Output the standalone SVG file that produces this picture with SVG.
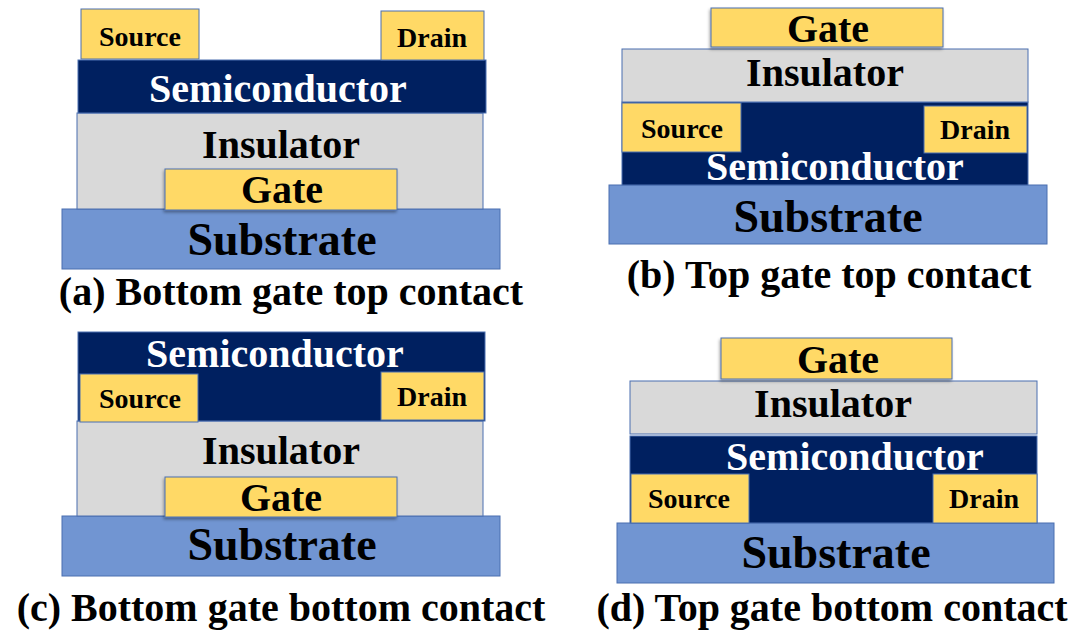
<svg xmlns="http://www.w3.org/2000/svg" width="1079" height="633" viewBox="0 0 1079 633">
<defs>
<filter id="sh" x="-10%" y="-20%" width="120%" height="150%">
<feDropShadow dx="-1" dy="2" stdDeviation="1.5" flood-color="#000" flood-opacity="0.35"/>
</filter>
</defs>
<style>
.L{stroke:#4A6FB0;stroke-width:1}
.y{fill:#FFD966}
.n{fill:#002060}
.g{fill:#D9D9D9}
.s{fill:#7195D2}
text{font-family:"Liberation Serif","Times New Roman",serif;font-weight:bold;text-anchor:middle;fill:#000}
.w{fill:#fff}
.sm{font-size:28px}
.md{font-size:40px}
.lg{font-size:46px}
.cap{font-size:40px}
</style>
<rect width="1079" height="633" fill="#fff"/>

<g id="panel-a">
<g id="a-substrate"><rect class="L s" x="62" y="209" width="438" height="60"/><text class="lg" x="282" y="255">Substrate</text></g>
<g id="a-insulator"><rect class="L g" x="77" y="113" width="406" height="96"/><text class="md" x="281" y="158">Insulator</text></g>
<g id="a-gate"><rect class="L y" x="165" y="169" width="232" height="41" filter="url(#sh)"/><text class="md" x="282" y="203">Gate</text></g>
<g id="a-semiconductor"><rect class="L n" x="78" y="60" width="408" height="53"/><text class="md w" x="278" y="102">Semiconductor</text></g>
<g id="a-source"><rect class="L y" x="81" y="9" width="118" height="50"/><text class="sm" x="140" y="46">Source</text></g>
<g id="a-drain"><rect class="L y" x="381" y="11" width="103" height="49"/><text class="sm" x="432" y="47">Drain</text></g>
<text id="a-caption" class="cap" x="291" y="305">(a) Bottom gate top contact</text>
</g>

<g id="panel-b">
<g id="b-substrate"><rect class="L s" x="609" y="185" width="438" height="59"/><text class="lg" x="828" y="232">Substrate</text></g>
<g id="b-semiconductor"><rect class="L n" x="622" y="102" width="406" height="83"/><text class="md w" x="835" y="180">Semiconductor</text></g>
<g id="b-source"><rect class="L y" x="622" y="103" width="119" height="49"/><text class="sm" x="682" y="138">Source</text></g>
<g id="b-drain"><rect class="L y" x="924" y="106" width="103" height="47"/><text class="sm" x="975" y="139">Drain</text></g>
<g id="b-insulator"><rect class="L g" x="622" y="49" width="406" height="53"/><text class="md" x="825" y="86">Insulator</text></g>
<g id="b-gate"><rect class="L y" x="711" y="8" width="232" height="39" filter="url(#sh)"/><text class="md" x="828" y="42">Gate</text></g>
<text id="b-caption" class="cap" x="829" y="288">(b) Top gate top contact</text>
</g>

<g id="panel-c">
<g id="c-substrate"><rect class="L s" x="62" y="516" width="438" height="60"/><text class="lg" x="282" y="560">Substrate</text></g>
<g id="c-insulator"><rect class="L g" x="77" y="421" width="406" height="95"/><text class="md" x="281" y="464">Insulator</text></g>
<g id="c-gate"><rect class="L y" x="165" y="477" width="232" height="40" filter="url(#sh)"/><text class="md" x="281" y="511">Gate</text></g>
<g id="c-semiconductor"><rect class="L n" x="78" y="332" width="407" height="89"/><text class="md w" x="275" y="367">Semiconductor</text></g>
<g id="c-source"><rect class="L y" x="80" y="374" width="118" height="48"/><text class="sm" x="140" y="408">Source</text></g>
<g id="c-drain"><rect class="L y" x="381" y="372" width="103" height="48"/><text class="sm" x="432" y="406">Drain</text></g>
<text id="c-caption" class="cap" x="281" y="621">(c) Bottom gate bottom contact</text>
</g>

<g id="panel-d">
<g id="d-substrate"><rect class="L s" x="617" y="523" width="437" height="60"/><text class="lg" x="836" y="568">Substrate</text></g>
<g id="d-semiconductor"><rect class="L n" x="630" y="436" width="407" height="87"/><text class="md w" x="855" y="470">Semiconductor</text></g>
<g id="d-source"><rect class="L y" x="631" y="474" width="118" height="49"/><text class="sm" x="689" y="508">Source</text></g>
<g id="d-drain"><rect class="L y" x="933" y="474" width="104" height="49"/><text class="sm" x="984" y="508">Drain</text></g>
<g id="d-insulator"><rect class="L g" x="630" y="381" width="407" height="53"/><text class="md" x="833" y="417">Insulator</text></g>
<g id="d-gate"><rect class="L y" x="721" y="338" width="231" height="41" filter="url(#sh)"/><text class="md" x="838" y="373">Gate</text></g>
<text id="d-caption" class="cap" x="832" y="621">(d) Top gate bottom contact</text>
</g>
<g id="connectors"/>
</svg>
